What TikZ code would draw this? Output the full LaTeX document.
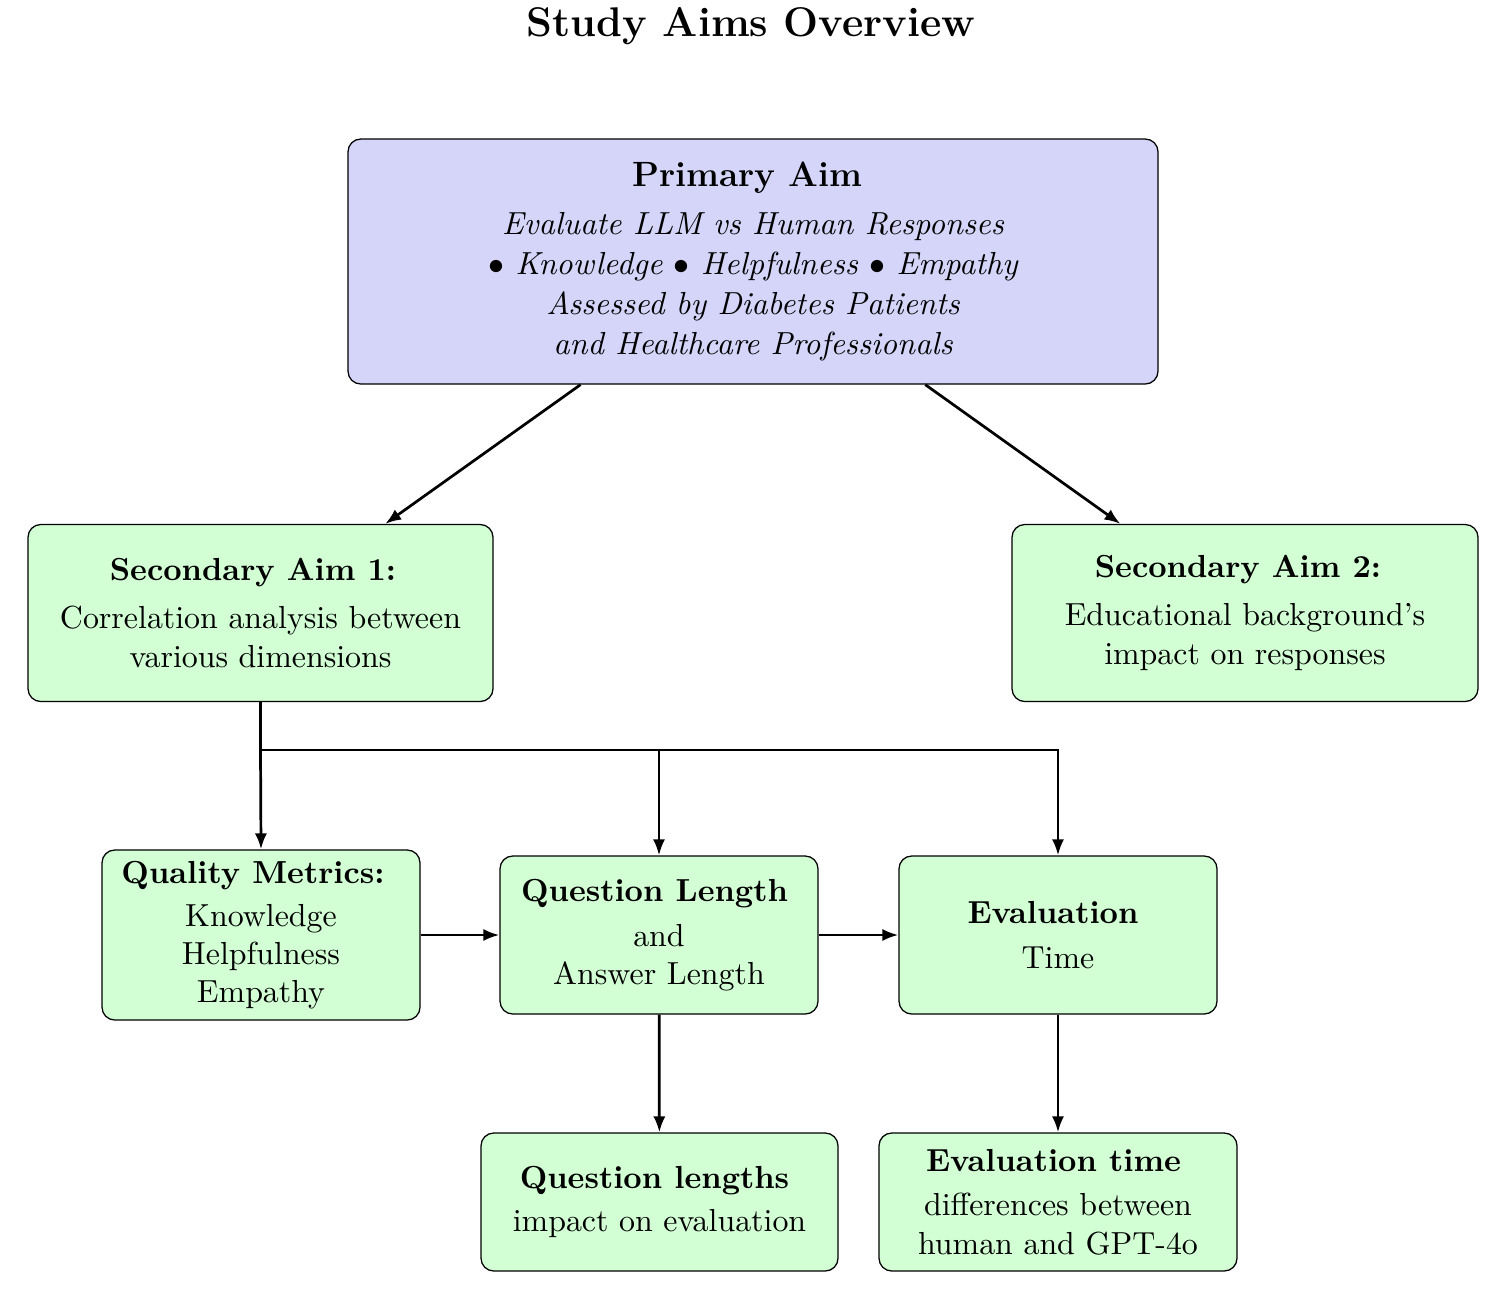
\documentclass[tikz,border=0pt]{standalone}
\usetikzlibrary{arrows.meta}
\definecolor{primfill}{RGB}{213,213,250}
\definecolor{secfill}{RGB}{210,255,212}
\newcommand\headpad[1]{\hspace*{\dimexpr 0.3135pt*#1\relax}}
\begin{document}
\begin{tikzpicture}[x=0.3135pt,y=-0.3135pt,
  box/.style={draw=black, rounded corners=4pt, align=center, inner sep=0pt, fill=secfill},
  arr/.style={-{Latex[length=5pt,width=3.8pt]}, line width=0.85pt}
]
\useasboundingbox (0,0) rectangle (1499,1292);
\node (title) at (751,26) {\fontsize{13}{15}\selectfont\bfseries Study Aims Overview};
\node[box, fill=primfill, minimum width={810*0.3135pt}, minimum height={245*0.3135pt}] (prim) at (753,261.5)
  {{\fontsize{11}{13}\selectfont\bfseries Primary Aim\headpad{11}}\\[3pt]
   \itshape Evaluate LLM vs Human Responses\\[0.5pt]
   \itshape $\bullet$ Knowledge $\bullet$ Helpfulness $\bullet$ Empathy\\[0.5pt]
   \itshape Assessed by Diabetes Patients\\[0.5pt]
   \itshape and Healthcare Professionals};
\node[box, minimum width={465*0.3135pt}, minimum height={177*0.3135pt}] (sec1) at (260.5,613)
  {\textbf{Secondary Aim 1:}\headpad{15}\\[3pt] Correlation analysis between\\ various dimensions};
\node[box, minimum width={466*0.3135pt}, minimum height={177*0.3135pt}] (sec2) at (1245,613)
  {\textbf{Secondary Aim 2:}\headpad{14}\\[3pt] Educational background's\\ impact on responses};
\node[box, minimum width={318*0.3135pt}, minimum height={170*0.3135pt}] (qual) at (261,935)
  {\textbf{Quality Metrics:}\headpad{16}\\[1.5pt] Knowledge\\ Helpfulness\\ Empathy};
\node[box, minimum width={318*0.3135pt}, minimum height={158*0.3135pt}] (qlen) at (659,935)
  {\textbf{Question Length}\headpad{9}\\[2pt] and\\ Answer Length};
\node[box, minimum width={318*0.3135pt}, minimum height={158*0.3135pt}] (eval) at (1058,935)
  {\textbf{Evaluation}\headpad{10}\\[2pt] Time};
\node[box, minimum width={357*0.3135pt}, minimum height={138*0.3135pt}] (qlens) at (659.5,1202)
  {\textbf{Question lengths}\headpad{10}\\[1.5pt] impact on evaluation};
\node[box, minimum width={358*0.3135pt}, minimum height={138*0.3135pt}] (evt) at (1058,1202)
  {\textbf{Evaluation time}\headpad{9}\\[2pt] differences between\\ human and GPT-4o};
\coordinate (split) at (260.5,750);
\draw[arr] (prim) -- (sec1);
\draw[arr] (prim) -- (sec2);
\draw[line width=0.85pt] (sec1.south) -- (split);
\draw[arr] (split) -- (qual.north);
\draw[arr] (split) -| (qlen.north);
\draw[arr] (split) -| (eval.north);
\draw[arr] (qual) -- (qlen);
\draw[arr] (qlen) -- (eval);
\draw[arr] (qlen) -- (qlens);
\draw[arr] (eval) -- (evt);
\end{tikzpicture}
\end{document}
